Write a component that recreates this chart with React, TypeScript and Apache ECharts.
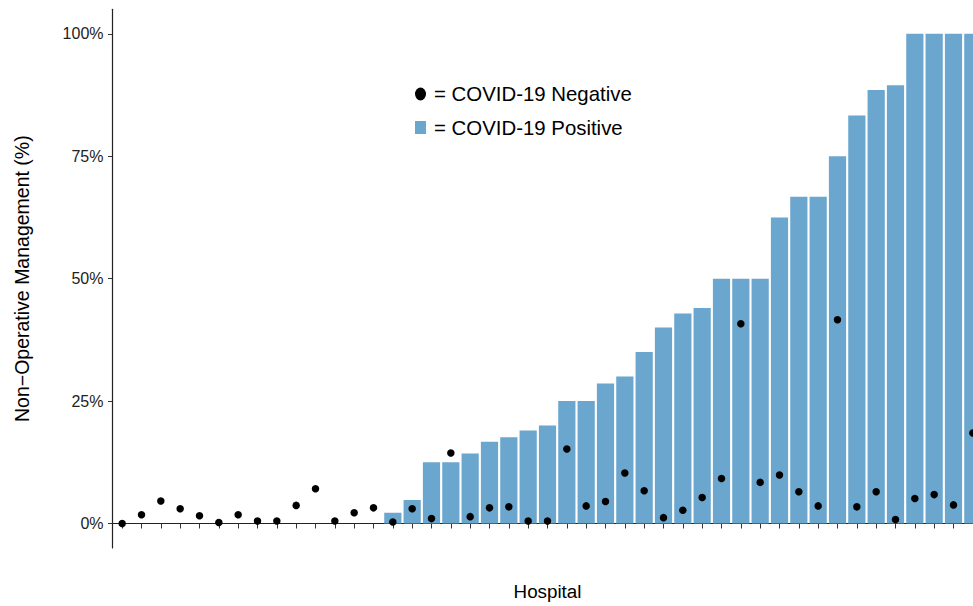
import React, { useEffect, useRef } from "react";
import * as echarts from "echarts";

const hospitals = [
  "H1", "H2", "H3", "H4", "H5", "H6", "H7", "H8", "H9", "H10",
  "H11", "H12", "H13", "H14", "H15", "H16", "H17", "H18", "H19", "H20",
  "H21", "H22", "H23", "H24", "H25", "H26", "H27", "H28", "H29", "H30",
  "H31", "H32", "H33", "H34", "H35", "H36", "H37", "H38", "H39", "H40",
  "H41", "H42", "H43", "H44", "H45",
];

// COVID-19 positive: % non-operative management (bars)
const positiveRates = [
  null, null, null, null, null, null, null, null, null, null,
  null, null, null, null, 2.2, 4.8, 12.5, 12.5, 14.3, 16.7,
  17.6, 19.0, 20.0, 25, 25, 28.6, 30, 35, 40, 42.9,
  44, 50, 50, 50, 62.5, 66.7, 66.7, 75, 83.3, 88.5,
  89.5, 100, 100, 100, 100,
];

// COVID-19 negative: % non-operative management (dots)
const negativeRates = [
  0, 1.8, 4.6, 3.0, 1.6, 0.2, 1.8, 0.5, 0.5, 3.7,
  7.1, 0.5, 2.2, 3.2, 0.3, 3.0, 1.0, 14.4, 1.4, 3.2,
  3.4, 0.5, 0.5, 15.2, 3.6, 4.5, 10.3, 6.7, 1.2, 2.7,
  5.3, 9.2, 40.8, 8.4, 9.9, 6.5, 3.6, 41.6, 3.4, 6.5,
  0.8, 5.1, 5.9, 3.8, 18.5,
];

const yTicks = [0, 25, 50, 75, 100];

const FONT = "Liberation Sans, Arial, Helvetica, sans-serif";

const ELLIPSE_ICON = "path://M5.5,0 A5.5,6.5 0 1,1 5.5,13 A5.5,6.5 0 1,1 5.5,0 Z";

export default function App() {
  const ref = useRef<HTMLDivElement>(null);

  useEffect(() => {
    if (!ref.current) return;
    const chart = echarts.init(ref.current, null, { renderer: "svg" });
    chart.setOption({
      animation: false,
      backgroundColor: "#ffffff",
      textStyle: { fontFamily: FONT },
      grid: { left: 112.5, right: 17.5, top: 9.3, bottom: 53.3, containLabel: false },
      legend: {
        orient: "vertical",
        left: 410,
        top: 79,
        padding: 5,
        itemWidth: 11,
        itemHeight: 13,
        itemGap: 13.5,
        selectedMode: false,
        formatter: "= {name}",
        textStyle: { fontSize: 20.4, color: "#000", fontFamily: FONT, padding: [0, 0, 0, 3] },
        data: [
          { name: "COVID-19 Negative", icon: ELLIPSE_ICON, itemStyle: { color: "#000", opacity: 1 } },
          { name: "COVID-19 Positive", icon: "rect" },
        ],
      },
      xAxis: {
        type: "category",
        data: hospitals,
        name: "Hospital",
        nameLocation: "middle",
        nameGap: 34,
        nameTextStyle: { fontSize: 18.8, color: "#000", fontFamily: FONT },
        axisLine: { show: true, lineStyle: { color: "#222", width: 1.2 } },
        axisTick: { show: true, alignWithLabel: true, interval: 0, length: 5, lineStyle: { color: "#333" } },
        axisLabel: { show: false },
        splitLine: { show: false },
      },
      yAxis: {
        type: "value",
        min: -5,
        max: 105,
        name: "Non\u2212Operative Management (%)",
        nameLocation: "middle",
        nameGap: 81,
        nameRotate: 90,
        nameTextStyle: { fontSize: 19.5, color: "#000", fontFamily: FONT },
        axisLine: { show: true, lineStyle: { color: "#222", width: 1.2 } },
        axisTick: { show: true, length: 4.5, customValues: yTicks, lineStyle: { color: "#333" } },
        axisLabel: {
          show: true,
          customValues: yTicks,
          margin: 9,
          fontSize: 16,
          color: "#222",
          fontFamily: FONT,
          formatter: (v: number) => `${v}%`,
        },
        splitLine: { show: false },
      },
      series: [
        {
          name: "COVID-19 Positive",
          type: "bar",
          data: positiveRates,
          barCategoryGap: "11%",
          itemStyle: { color: "#6BA6CE" },
        },
        {
          name: "COVID-19 Negative",
          type: "scatter",
          data: negativeRates,
          symbol: "circle",
          symbolSize: 7.5,
          itemStyle: { color: "#000", opacity: 1 },
        },
      ],
    });
    return () => chart.dispose();
  }, []);

  return (
    <div
      style={{
        position: "fixed",
        left: 0,
        top: 0,
        width: 973,
        height: 606,
        overflow: "hidden",
        background: "#fff",
      }}
    >
      <div ref={ref} style={{ width: 1000, height: 606 }} />
    </div>
  );
}
